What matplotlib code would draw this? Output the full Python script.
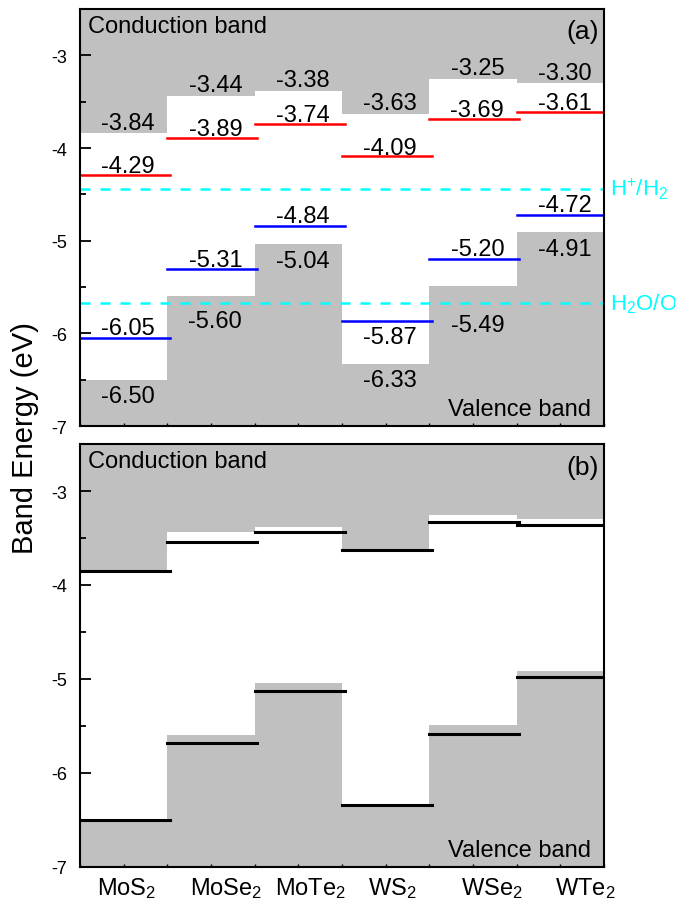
import numpy as np
import matplotlib
matplotlib.use("Agg")
import matplotlib.pyplot as plt
from matplotlib.ticker import MultipleLocator

plt.rcParams['font.family'] = ['Liberation Sans', 'DejaVu Sans']
plt.rcParams['mathtext.default'] = 'regular'
plt.rcParams['axes.unicode_minus'] = False

# data
materials = ['MoS$_2$', 'MoSe$_2$', 'MoTe$_2$', 'WS$_2$', 'WSe$_2$', 'WTe$_2$']
cbm = [-3.84, -3.44, -3.38, -3.63, -3.25, -3.30]
vbm = [-6.50, -5.60, -5.04, -6.33, -5.49, -4.91]
red_levels = [-4.29, -3.89, -3.74, -4.09, -3.69, -3.61]
blue_levels = [-6.05, -5.31, -4.84, -5.87, -5.20, -4.72]
cbm_b = [-3.85, -3.54, -3.44, -3.63, -3.33, -3.36]
vbm_b = [-6.50, -5.68, -5.13, -6.34, -5.58, -4.98]
redox = [-4.44, -5.67]
redox_labels = ['H$^{+}$/H$_2$', 'H$_2$O/O$_2$']

ymin, ymax = -7, -2.5
gray = '#C0C0C0'
x = np.arange(len(materials))

fig = plt.figure(figsize=(6.75, 9.03), dpi=100)
ax_a = fig.add_axes([80/675, 1 - 427/903, 524/675, 417/903])
ax_b = fig.add_axes([80/675, 1 - 868/903, 524/675, 423/903])


def draw_bands(ax, tag):
    # gray conduction/valence band blocks
    cb = np.array(cbm)
    vb = np.array(vbm)
    ax.bar(x, ymax - cb, bottom=cb, width=1, align='edge', color=gray, lw=0)
    ax.bar(x, vb - ymin, bottom=ymin, width=1, align='edge', color=gray, lw=0)
    ax.set_xlim(0, len(materials))
    ax.set_ylim(ymin, ymax)
    ax.yaxis.set_major_locator(MultipleLocator(1))
    ax.yaxis.set_minor_locator(MultipleLocator(0.5))
    ax.xaxis.set_major_locator(MultipleLocator(0.5))
    ax.tick_params(axis='y', which='major', direction='in', length=8, width=1.3,
                   labelsize=13, pad=9)
    ax.tick_params(axis='y', which='minor', direction='in', length=4, width=1.3)
    ax.tick_params(axis='x', which='major', direction='in', length=2.5, width=1,
                   labelbottom=False)
    for s in ax.spines.values():
        s.set_linewidth(1.5)
    ax.text(0.015, 0.985, 'Conduction band', transform=ax.transAxes,
            ha='left', va='top', fontsize=17)
    ax.text(0.975, 0.015, 'Valence band', transform=ax.transAxes,
            ha='right', va='bottom', fontsize=17)
    ax.text(0.99, 0.975, tag, transform=ax.transAxes,
            ha='right', va='top', fontsize=19)


draw_bands(ax_a, '(a)')
draw_bands(ax_b, '(b)')

# panel (a): levels and labels
for i in range(len(materials)):
    ax_a.plot([i, i + 1.03], [red_levels[i]] * 2, color='red', lw=1.8)
    ax_a.plot([i, i + 1.03], [blue_levels[i]] * 2, color='blue', lw=1.8)

fs = 17
vb_drop = {1: 0.33, 4: 0.48}
for i in range(len(materials)):
    xc = i + 0.55
    ax_a.text(xc, cbm[i] + 0.05, '%.2f' % cbm[i], ha='center', va='baseline', fontsize=fs)
    ax_a.text(xc, vbm[i] - vb_drop.get(i, 0.24), '%.2f' % vbm[i], ha='center',
              va='baseline', fontsize=fs)
    ax_a.text(xc, red_levels[i] + 0.03, '%.2f' % red_levels[i], ha='center',
              va='baseline', fontsize=fs)
    dy = -0.23 if i == 3 else 0.04
    ax_a.text(xc, blue_levels[i] + dy, '%.2f' % blue_levels[i], ha='center',
              va='baseline', fontsize=fs)

# redox levels; the labels run off the right edge as in the original figure
for lvl, lab in zip(redox, redox_labels):
    ax_a.axhline(lvl, color='#00FFFF', lw=1.8, ls=(0, (4, 4)))
    ax_a.text(1.012, lvl, lab, transform=ax_a.get_yaxis_transform(), color='#00FFFF',
              ha='left', va='center', fontsize=16, clip_on=False)

# panel (b): black band edges
for i in range(len(materials)):
    ax_b.plot([i, i + 1.03], [cbm_b[i]] * 2, color='black', lw=2.2)
    ax_b.plot([i, i + 1.03], [vbm_b[i]] * 2, color='black', lw=2.2)

label_shift = [0.03, 0.17, 0.14, 0.08, 0.22, 0.29]
for i, name in enumerate(materials):
    ax_b.text(i + 0.5 + label_shift[i], -0.018, name, transform=ax_b.get_xaxis_transform(),
              ha='center', va='top', fontsize=17)

fig.text(0.037, 0.515, 'Band Energy (eV)', rotation=90, ha='center', va='center',
         fontsize=21)

fig.savefig('out.png', dpi=100)
